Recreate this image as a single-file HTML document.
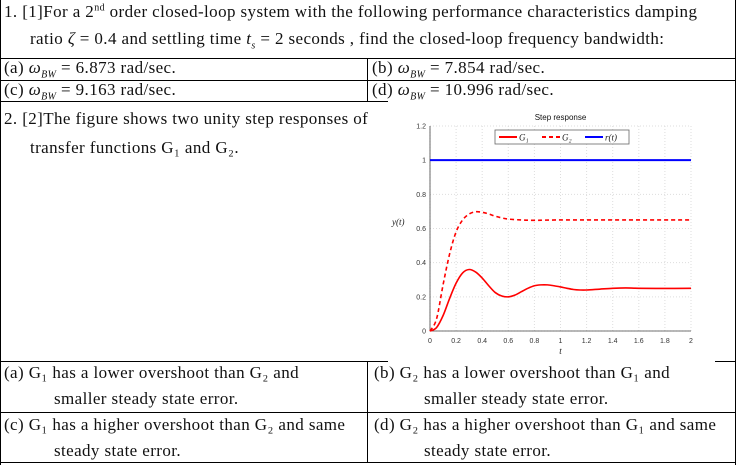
<!DOCTYPE html>
<html><head><meta charset="utf-8"><style>
body{margin:0;width:737px;height:465px;background:#fff;overflow:hidden;position:relative;font-family:"Liberation Serif",serif;font-size:17px;letter-spacing:0.4px;color:#111}
.t{position:absolute;white-space:nowrap}
.hl{position:absolute;height:1px;background:#000}
.vl{position:absolute;width:1px;background:#000}
i{font-style:italic}
</style></head><body>
<div class="vl" style="left:0;top:0;height:465px"></div>
<div class="vl" style="left:735px;top:0;height:465px"></div>
<div class="t" style="left:4px;top:2px">1. [1]For a 2<sup style="font-size:10px">nd</sup> order closed-loop system with the following performance characteristics damping</div>
<div class="t" style="left:30px;top:29px">ratio <i>ζ</i> = 0.4 and settling time <i>t<sub style="font-size:10px">s</sub></i> = 2 seconds , find the closed-loop frequency bandwidth:</div>
<div class="hl" style="left:0;top:58px;width:736px"></div>
<div class="hl" style="left:0;top:80px;width:736px"></div>
<div class="hl" style="left:0;top:101px;width:388px"></div>
<div class="vl" style="left:367px;top:58px;height:43px"></div>
<div class="t" style="left:4px;top:58px">(a) <i>ω<sub style="font-size:10px">BW</sub></i> = 6.873 rad/sec.</div>
<div class="t" style="left:372px;top:58px">(b) <i>ω<sub style="font-size:10px">BW</sub></i> = 7.854 rad/sec.</div>
<div class="t" style="left:4px;top:80px">(c) <i>ω<sub style="font-size:10px">BW</sub></i> = 9.163 rad/sec.</div>
<div class="t" style="left:372px;top:80px">(d) <i>ω<sub style="font-size:10px">BW</sub></i> = 10.996 rad/sec.</div>
<div class="t" style="left:4px;top:109px">2. [2]The figure shows two unity step responses of</div>
<div class="t" style="left:30px;top:138px">transfer functions G₁ and G₂.</div>
<div class="hl" style="left:0;top:361px;width:388px"></div>
<div class="hl" style="left:715px;top:361px;width:21px"></div>
<div class="hl" style="left:0;top:412px;width:736px"></div>
<div class="hl" style="left:0;top:462px;width:736px"></div>
<div class="vl" style="left:367px;top:361px;height:101px"></div>
<div class="t" style="left:4px;top:360px;line-height:26px">(a) G₁ has a lower overshoot than G₂ and<br><span style="padding-left:50px">smaller steady state error.</span></div>
<div class="t" style="left:374px;top:360px;line-height:26px">(b) G₂ has a lower overshoot than G₁ and<br><span style="padding-left:50px">smaller steady state error.</span></div>
<div class="t" style="left:4px;top:412px;line-height:26px">(c) G₁ has a higher overshoot than G₂ and same<br><span style="padding-left:50px">steady state error.</span></div>
<div class="t" style="left:374px;top:412px;line-height:26px">(d) G₂ has a higher overshoot than G₁ and same<br><span style="padding-left:50px">steady state error.</span></div>
<svg id="chart" width="737" height="465" style="position:absolute;left:0;top:0;letter-spacing:0" font-family="Liberation Sans, sans-serif"></svg>
<script>
const tG1=[0,0.05,0.1,0.15,0.2,0.25,0.3,0.35,0.4,0.45,0.5,0.55,0.6,0.65,0.7,0.75,0.8,0.85,0.9,0.95,1.0,1.05,1.1,1.15,1.2,1.3,1.4,1.5,1.6,1.8,2.0];
const yG1=[0,0.02,0.09,0.19,0.28,0.34,0.36,0.345,0.31,0.265,0.225,0.205,0.2,0.21,0.23,0.25,0.265,0.27,0.27,0.265,0.258,0.25,0.243,0.24,0.24,0.245,0.25,0.252,0.25,0.249,0.25];
const tG2=[0,0.05,0.1,0.15,0.2,0.25,0.3,0.35,0.4,0.45,0.5,0.55,0.6,0.7,0.8,1.0,1.5,2.0];
const yG2=[0,0.07,0.27,0.45,0.58,0.65,0.685,0.698,0.695,0.685,0.672,0.662,0.655,0.65,0.648,0.65,0.65,0.65];
const tR=[0,2];
const yR=[1,1];
const xTicks=[0,0.2,0.4,0.6,0.8,1,1.2,1.4,1.6,1.8,2];
const yTicks=[0,0.2,0.4,0.6,0.8,1,1.2];
const X0=430,X1=691,Y0=331,Y1=126;
const sx=v=>X0+(v-0)/(2-0)*(X1-X0);
const sy=v=>Y0-(v-0)/(1.2-0)*(Y0-Y1);
const svg=document.getElementById('chart');
const NS='http://www.w3.org/2000/svg';
function mk(tag,attrs){const e=document.createElementNS(NS,tag);for(const k in attrs)e.setAttribute(k,attrs[k]);svg.appendChild(e);return e;}
xTicks.forEach(v=>{
 const g=mk('line',{x1:sx(v),x2:sx(v),y1:Y0,y2:Y1,stroke:'#ddd','stroke-dasharray':'1,2','stroke-width':1});
 
 
 const t=mk('text',{x:sx(v),y:Y0+12,'font-size':7,'text-anchor':'middle',fill:'#333'});t.textContent=v;
 
 
});
yTicks.forEach(v=>{
 const g=mk('line',{x1:X0,x2:X1,y1:sy(v),y2:sy(v),stroke:'#ddd','stroke-dasharray':'1,2','stroke-width':1});
 
 
 const t=mk('text',{x:X0-4,y:sy(v)+2.5,'font-size':7,'text-anchor':'end',fill:'#333'});t.textContent=v;
 
 
});
const ax=mk('path',{d:`M${X0},${Y1}V${Y0}H${X1}`,stroke:'#444',fill:'none','stroke-width':0.8});


function curve(ts,ys){
 const p=ts.map((t,i)=>[sx(t),sy(ys[i])]);
 let d=`M${p[0][0]},${p[0][1]}`;
 for(let i=0;i<p.length-1;i++){
  const a=p[Math.max(i-1,0)],b=p[i],c=p[i+1],e=p[Math.min(i+2,p.length-1)];
  d+=`C${b[0]+(c[0]-a[0])/6},${b[1]+(c[1]-a[1])/6} ${c[0]-(e[0]-b[0])/6},${c[1]-(e[1]-b[1])/6} ${c[0]},${c[1]}`;
 }
 return d;
}
const r=mk('path',{d:curve(tR,yR),stroke:'#0000ff',fill:'none','stroke-width':2});


const g2=mk('path',{d:curve(tG2,yG2),stroke:'#ff0000',fill:'none','stroke-width':1.6,'stroke-dasharray':'4,3'});


const g1=mk('path',{d:curve(tG1,yG1),stroke:'#ff0000',fill:'none','stroke-width':1.6});


const title=mk('text',{x:(X0+X1)/2,y:120,'font-size':8,'text-anchor':'middle',fill:'#111'});title.textContent='Step response';


const yl=mk('text',{x:392,y:225,'font-size':9,'font-style':'italic','font-family':'Liberation Serif, serif',fill:'#222'});yl.textContent='y(t)';


const xl=mk('text',{x:(X0+X1)/2,y:354,'font-size':9,'font-style':'italic','font-family':'Liberation Serif, serif','text-anchor':'middle',fill:'#222'});xl.textContent='t';


const lb=mk('rect',{x:495,y:130,width:134,height:14,fill:'#fff',stroke:'#666','stroke-width':0.8});


const legend=[['G₁','#ff0000','',497],['G₂','#ff0000','4,3',540],['r(t)','#0000ff','',583]];
legend.forEach(([lab,c,da,x])=>{
 const l=mk('line',{x1:x+2,x2:x+20,y1:137,y2:137,stroke:c,'stroke-width':2,'stroke-dasharray':da});
 
 
 const t=mk('text',{x:x+22,y:140.5,'font-size':9,'font-style':'italic','font-family':'Liberation Serif, serif',fill:'#222'});t.textContent=lab;
 
 
});
</script>
</body></html>
